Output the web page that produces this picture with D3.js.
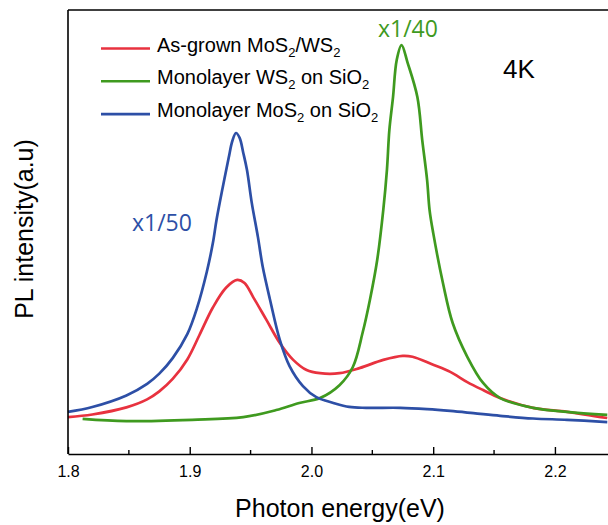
<!DOCTYPE html>
<html>
<head>
<meta charset="utf-8">
<script src="https://cdn.jsdelivr.net/npm/d3@7"></script>
<style>
  body { margin: 0; background: #fff; }
  text { font-family: "Liberation Sans", Arial, sans-serif; }
</style>
</head>
<body>
<script>
// PL spectra at 4K, [photon energy (eV), intensity (a.u.)]
const asGrown = [
  [1.800, 8.3], [1.820, 8.9], [1.848, 10.5], [1.865, 12.3], [1.875, 14.1],
  [1.886, 16.9], [1.898, 21.3], [1.908, 26.8], [1.919, 33.0], [1.930, 37.5],
  [1.939, 39.2], [1.945, 38.5], [1.952, 35.4], [1.963, 30.2], [1.974, 25.0],
  [1.985, 21.2], [1.996, 18.9], [2.007, 18.2], [2.023, 18.2], [2.040, 19.4],
  [2.059, 21.2], [2.075, 22.1], [2.083, 21.9], [2.100, 20.1], [2.114, 18.5],
  [2.128, 16.2], [2.141, 14.4], [2.155, 12.6], [2.182, 10.4], [2.210, 9.5],
  [2.243, 8.1]
];
const ws2Mono = [
  [1.812, 7.9], [1.848, 7.4], [1.902, 7.7], [1.944, 8.3], [1.971, 9.9],
  [1.990, 11.5], [2.007, 12.6], [2.023, 15.5], [2.034, 19.6], [2.042, 27.3],
  [2.048, 34.7], [2.054, 43.7], [2.059, 55.0], [2.062, 64.0], [2.064, 73.0],
  [2.067, 80.4], [2.070, 88.7], [2.074, 92.1], [2.079, 88.1], [2.087, 80.4],
  [2.091, 70.7], [2.095, 61.7], [2.097, 55.0], [2.100, 49.8], [2.108, 38.5],
  [2.116, 29.5], [2.128, 21.9], [2.141, 16.0], [2.155, 12.6], [2.182, 10.4],
  [2.210, 9.5], [2.243, 8.8]
];
const mos2Mono = [
  [1.800, 9.5], [1.820, 10.6], [1.848, 13.2], [1.865, 15.8], [1.875, 18.1],
  [1.886, 21.6], [1.898, 27.0], [1.906, 32.9], [1.914, 41.0], [1.919, 47.5],
  [1.922, 52.7], [1.927, 59.9], [1.932, 66.7], [1.935, 70.5], [1.938, 72.3],
  [1.941, 71.2], [1.944, 67.8], [1.947, 64.0], [1.951, 56.5], [1.956, 48.9],
  [1.960, 42.1], [1.966, 34.7], [1.974, 25.7], [1.982, 19.8], [1.993, 15.3],
  [2.004, 12.8], [2.018, 11.5], [2.031, 10.6], [2.045, 10.4], [2.073, 10.4],
  [2.095, 10.1], [2.114, 9.7], [2.133, 9.2], [2.155, 8.6], [2.182, 8.0],
  [2.210, 7.7], [2.243, 7.2]
];
const majorTicks = [1.8, 1.9, 2.0, 2.1, 2.2];
const minorTicks = [1.85, 1.95, 2.05, 2.15];

const series = [
  { name: "As-grown", data: asGrown, color: "#e8323f" },
  { name: "WS2", data: ws2Mono, color: "#3f9a1f" },
  { name: "MoS2", data: mos2Mono, color: "#2d4fa6" }
];

const width = 608;
const height = 525;
const margin = { top: 10, right: 0, bottom: 71, left: 68 };

const svg = d3.select('body')
  .append('svg')
  .attr('width', width)
  .attr('height', height);

const x = d3.scaleLinear()
  .domain([1.8, 2.2436])
  .range([margin.left, width - margin.right]);
const y = d3.scaleLinear()
  .domain([0, 100])
  .range([height - margin.bottom, margin.top]);

const line = d3.line()
  .x((d) => x(d[0]))
  .y((d) => y(d[1]))
  .curve(d3.curveCatmullRom.alpha(0.5));

// curves (drawn first so axes sit on top)
svg.append('g').selectAll('path')
  .data(series)
  .enter().append('path')
  .attr('d', (d) => line(d.data))
  .attr('fill', 'none')
  .attr('stroke', (d) => d.color)
  .attr('stroke-width', 2.7)
  .attr('stroke-linejoin', 'round');

// x axis, ticks pointing inward
const xAxis = svg.append('g')
  .attr('transform', `translate(0,${y(0)})`)
  .call(d3.axisBottom(x).tickValues(majorTicks).tickSizeInner(-7).tickSizeOuter(0)
    .tickFormat(d3.format('.1f')));
xAxis.select('.domain').attr('stroke-width', 1.6);
xAxis.selectAll('.tick line').attr('stroke-width', 1.4);
xAxis.selectAll('.tick text')
  .attr('y', 12)
  .attr('dy', '0.71em')
  .style('font-size', '16px')
  .style('font-family', '"Liberation Sans", Arial, sans-serif');
xAxis.append('g').selectAll('line')
  .data(minorTicks)
  .enter().append('line')
  .attr('x1', (d) => x(d)).attr('x2', (d) => x(d))
  .attr('y1', 0).attr('y2', -4)
  .attr('stroke', '#000').attr('stroke-width', 1.4);

// left axis and top frame
svg.append('line')
  .attr('x1', x(1.8)).attr('x2', x(1.8))
  .attr('y1', y(100)).attr('y2', y(0))
  .attr('stroke', '#000').attr('stroke-width', 1.6);
svg.append('line')
  .attr('x1', x(1.8)).attr('x2', width)
  .attr('y1', y(100)).attr('y2', y(100))
  .attr('stroke', '#000').attr('stroke-width', 1.6);

// axis titles
svg.append('text')
  .attr('x', 340)
  .attr('y', 517)
  .attr('text-anchor', 'middle')
  .style('font-size', '25px')
  .text('Photon energy(eV)');
svg.append('text')
  .attr('transform', 'translate(33,229) rotate(-90)')
  .attr('text-anchor', 'middle')
  .style('font-size', '25px')
  .text('PL intensity(a.u)');

// legend
const legend = svg.append('g');
const legendRows = [
  [{ t: 'As-grown MoS' }, { t: '2', sub: true }, { t: '/WS' }, { t: '2', sub: true }],
  [{ t: 'Monolayer WS' }, { t: '2', sub: true }, { t: ' on SiO' }, { t: '2', sub: true }],
  [{ t: 'Monolayer MoS' }, { t: '2', sub: true }, { t: ' on SiO' }, { t: '2', sub: true }]
];
legendRows.forEach((parts, i) => {
  const by = 56.5 + i * 32.8;
  legend.append('line')
    .attr('x1', 101).attr('x2', 150)
    .attr('y1', by - 8).attr('y2', by - 8)
    .attr('stroke', series[i].color)
    .attr('stroke-width', 2.6);
  const t = legend.append('text')
    .attr('x', 157)
    .attr('y', by)
    .style('font-size', '20px');
  parts.forEach((p) => {
    t.append('tspan')
      .attr('dy', p.sub ? 5 : (t.selectAll('tspan').size() ? -5 : 0))
      .style('font-size', p.sub ? '13px' : '20px')
      .text(p.t);
  });
});

// annotations
svg.append('text')
  .attr('x', 132).attr('y', 231)
  .style('font-size', '23px')
  .style('font-family', '"Open Sans", sans-serif')
  .attr('fill', series[2].color)
  .text('x1/50');
svg.append('text')
  .attr('x', 378).attr('y', 37)
  .style('font-size', '23px')
  .style('font-family', '"Open Sans", sans-serif')
  .attr('fill', series[1].color)
  .text('x1/40');
svg.append('text')
  .attr('x', 503).attr('y', 78)
  .style('font-size', '26px')
  .text('4K');
</script>
</body>
</html>
